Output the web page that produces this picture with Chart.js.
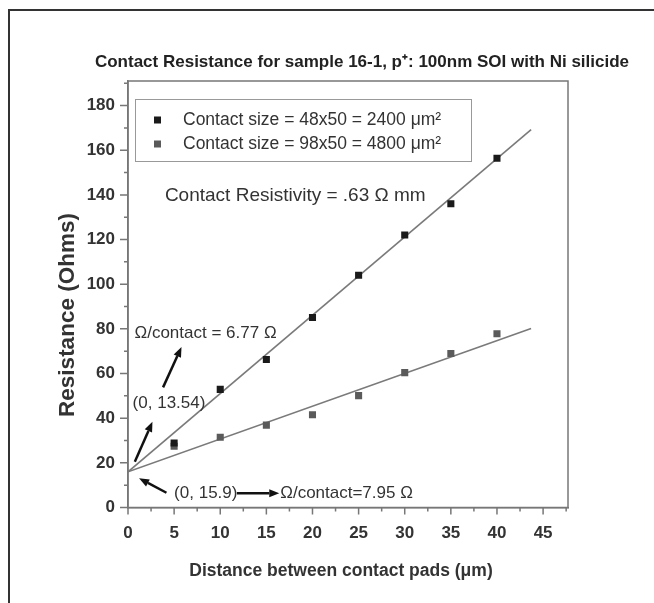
<!DOCTYPE html>
<html>
<head>
<meta charset="utf-8">
<script src="https://cdn.jsdelivr.net/npm/chart.js@4"></script>
<style>
  html, body { margin: 0; padding: 0; background: #fff; }
  canvas { display: block; }
</style>
</head>
<body>
<canvas id="grafico" width="654" height="603"></canvas>
<script>
// dados
const distancias = [5, 10, 15, 20, 25, 30, 35, 40];
const resist2400 = [28.9, 52.9, 66.3, 85.1, 104, 122, 136, 156.4];
const resist4800 = [27.4, 31.5, 36.9, 41.5, 50.1, 60.4, 69, 77.8];
const ajusteX = [0, 43.7];
const ajuste2400 = [16, 169.2];
const ajuste4800 = [16, 80.2];
const rotulos = ['Contact size = 48x50 = 2400 \u03bcm\u00b2', 'Contact size = 98x50 = 4800 \u03bcm\u00b2'];

const titulo = 'Contact Resistance for sample 16-1, p\u207a: 100nm SOI with Ni silicide';
const tituloX = 'Distance between contact pads (\u03bcm)';
const tituloY = 'Resistance (Ohms)';

// anotacoes (coordenadas em unidades dos eixos)
const textos = [
  { t: 'Contact Resistivity = .63 \u03a9 mm', x: 4.0, y: 139.4, tam: 19 },
  { t: '\u03a9/contact = 6.77 \u03a9', x: 0.7, y: 78, tam: 17 },
  { t: '(0, 13.54)', x: 0.5, y: 46.6, tam: 17 },
  { t: '(0, 15.9)', x: 5.0, y: 6.4, tam: 17 },
  { t: '\u03a9/contact=7.95 \u03a9', x: 16.5, y: 6.4, tam: 17 }
];
const setas = [
  { de: [0.74, 20.5], para: [2.65, 38.4] },
  { de: [3.8, 53.8], para: [5.8, 71.9] },
  { de: [4.17, 6.6], para: [1.2, 13.1] },
  { de: [11.8, 6.4], para: [16.4, 6.4] }
];

const pontos = (xs, ys) => xs.map((x, i) => ({ x: x, y: ys[i] }));

const fonte = "'Liberation Sans', Arial, sans-serif";

const extras = {
  id: 'extras',
  afterDraw(chart) {
    const ctx = chart.ctx;
    const ca = chart.chartArea;
    const sx = chart.scales.x, sy = chart.scales.y;
    ctx.save();

    // moldura externa
    ctx.strokeStyle = '#333';
    ctx.lineWidth = 2;
    ctx.beginPath();
    ctx.moveTo(9, 603);
    ctx.lineTo(9, 10);
    ctx.lineTo(654, 10);
    ctx.stroke();

    // caixa do grafico
    ctx.strokeStyle = '#777';
    ctx.lineWidth = 1.5;
    ctx.strokeRect(ca.left, ca.top, ca.right - ca.left, ca.bottom - ca.top);

    // ticks maiores e menores
    ctx.beginPath();
    for (let v = 0; v <= 190; v += 10) {
      const p = sy.getPixelForValue(v);
      const len = v % 20 === 0 ? 8 : 4;
      ctx.moveTo(ca.left - len, p);
      ctx.lineTo(ca.left, p);
    }
    for (let v = 0; v <= 47.5; v += 2.5) {
      const p = sx.getPixelForValue(v);
      const len = v % 5 === 0 ? 7 : 4;
      ctx.moveTo(p, ca.bottom);
      ctx.lineTo(p, ca.bottom + len);
    }
    ctx.stroke();

    // titulos
    ctx.fillStyle = '#222';
    ctx.font = 'bold 17px ' + fonte;
    ctx.textAlign = 'center';
    ctx.textBaseline = 'middle';
    ctx.fillText(titulo, 362, 62);
    ctx.fillStyle = '#333';
    ctx.font = 'bold 17.5px ' + fonte;
    ctx.fillText(tituloX, 341, 571);
    ctx.save();
    ctx.translate(68, 315);
    ctx.rotate(-Math.PI / 2);
    ctx.font = 'bold 22.5px ' + fonte;
    ctx.fillText(tituloY, 0, 0);
    ctx.restore();

    // legenda
    const lx = ca.left + 7, ly = ca.top + 18;
    ctx.strokeStyle = '#999';
    ctx.lineWidth = 1;
    ctx.strokeRect(lx + 0.5, ly + 0.5, 336, 62);
    ctx.font = '17.5px ' + fonte;
    ctx.textAlign = 'left';
    chart.data.datasets.slice(0, 2).forEach((ds, i) => {
      const yy = ly + 21 + i * 24;
      ctx.fillStyle = ds.backgroundColor;
      ctx.fillRect(lx + 19, yy - 3.5, 7, 7);
      ctx.fillStyle = '#333';
      ctx.fillText(ds.label, lx + 48, yy);
    });

    // textos
    ctx.fillStyle = '#333';
    textos.forEach(a => {
      ctx.font = a.tam + 'px ' + fonte;
      ctx.fillText(a.t, sx.getPixelForValue(a.x), sy.getPixelForValue(a.y));
    });

    // setas
    ctx.strokeStyle = '#111';
    ctx.fillStyle = '#111';
    ctx.lineWidth = 2.5;
    setas.forEach(s => {
      const x1 = sx.getPixelForValue(s.de[0]), y1 = sy.getPixelForValue(s.de[1]);
      const x2 = sx.getPixelForValue(s.para[0]), y2 = sy.getPixelForValue(s.para[1]);
      const ang = Math.atan2(y2 - y1, x2 - x1);
      const hl = 10, hw = 4;
      const bx = x2 - hl * Math.cos(ang), by = y2 - hl * Math.sin(ang);
      ctx.beginPath();
      ctx.moveTo(x1, y1);
      ctx.lineTo(bx, by);
      ctx.stroke();
      ctx.beginPath();
      ctx.moveTo(x2, y2);
      ctx.lineTo(bx + hw * Math.sin(ang), by - hw * Math.cos(ang));
      ctx.lineTo(bx - hw * Math.sin(ang), by + hw * Math.cos(ang));
      ctx.closePath();
      ctx.fill();
    });
    ctx.restore();
  }
};

const ctx = document.getElementById('grafico');
const grafico = new Chart(ctx, {
  type: 'scatter',
  data: {
    datasets: [{
      label: rotulos[0],
      data: pontos(distancias, resist2400),
      pointStyle: 'rect',
      pointRadius: 5,
      backgroundColor: '#1a1a1a',
      borderColor: '#1a1a1a',
      borderWidth: 0,
      order: 1
    },
    {
      label: rotulos[1],
      data: pontos(distancias, resist4800),
      pointStyle: 'rect',
      pointRadius: 5,
      backgroundColor: '#5a5a5a',
      borderColor: '#5a5a5a',
      borderWidth: 0,
      order: 1
    },
    {
      type: 'line',
      label: 'ajuste 2400',
      data: pontos(ajusteX, ajuste2400),
      borderColor: '#7a7a7a',
      borderWidth: 1.6,
      pointRadius: 0,
      fill: false,
      order: 2
    },
    {
      type: 'line',
      label: 'ajuste 4800',
      data: pontos(ajusteX, ajuste4800),
      borderColor: '#7a7a7a',
      borderWidth: 1.6,
      pointRadius: 0,
      fill: false,
      order: 2
    }]
  },
  options: {
    responsive: false,
    animation: false,
    layout: {
      padding: { left: 0, right: 86, top: 81, bottom: 0 }
    },
    plugins: {
      legend: { display: false },
      title: { display: false },
      tooltip: { enabled: false }
    },
    scales: {
      x: {
        type: 'linear',
        min: 0,
        max: 47.7,
        grid: { display: false, drawTicks: false },
        border: { display: true, color: '#777', width: 1.5 },
        ticks: {
          stepSize: 2.5,
          includeBounds: false,
          maxRotation: 0,
          autoSkip: false,
          padding: 16,
          color: '#333',
          font: { family: fonte, size: 17, weight: 'bold' },
          callback: v => (v % 5 === 0 ? v : '')
        },
        title: { display: false },
        afterFit(scale) {
          scale.height = 603 - 507.5;
          scale.paddingLeft = 0;
          scale.paddingRight = 0;
        }
      },
      y: {
        type: 'linear',
        min: 0,
        max: 191,
        grid: { display: false, drawTicks: false },
        border: { display: true, color: '#777', width: 1.5 },
        ticks: {
          stepSize: 10,
          includeBounds: false,
          autoSkip: false,
          padding: 13,
          color: '#333',
          font: { family: fonte, size: 17, weight: 'bold' },
          callback: v => (v % 20 === 0 ? v : '')
        },
        title: { display: false },
        afterFit(scale) {
          scale.width = 128;
          scale.paddingTop = 0;
          scale.paddingBottom = 0;
        }
      }
    }
  },
  plugins: [extras]
});
</script>
</body>
</html>
